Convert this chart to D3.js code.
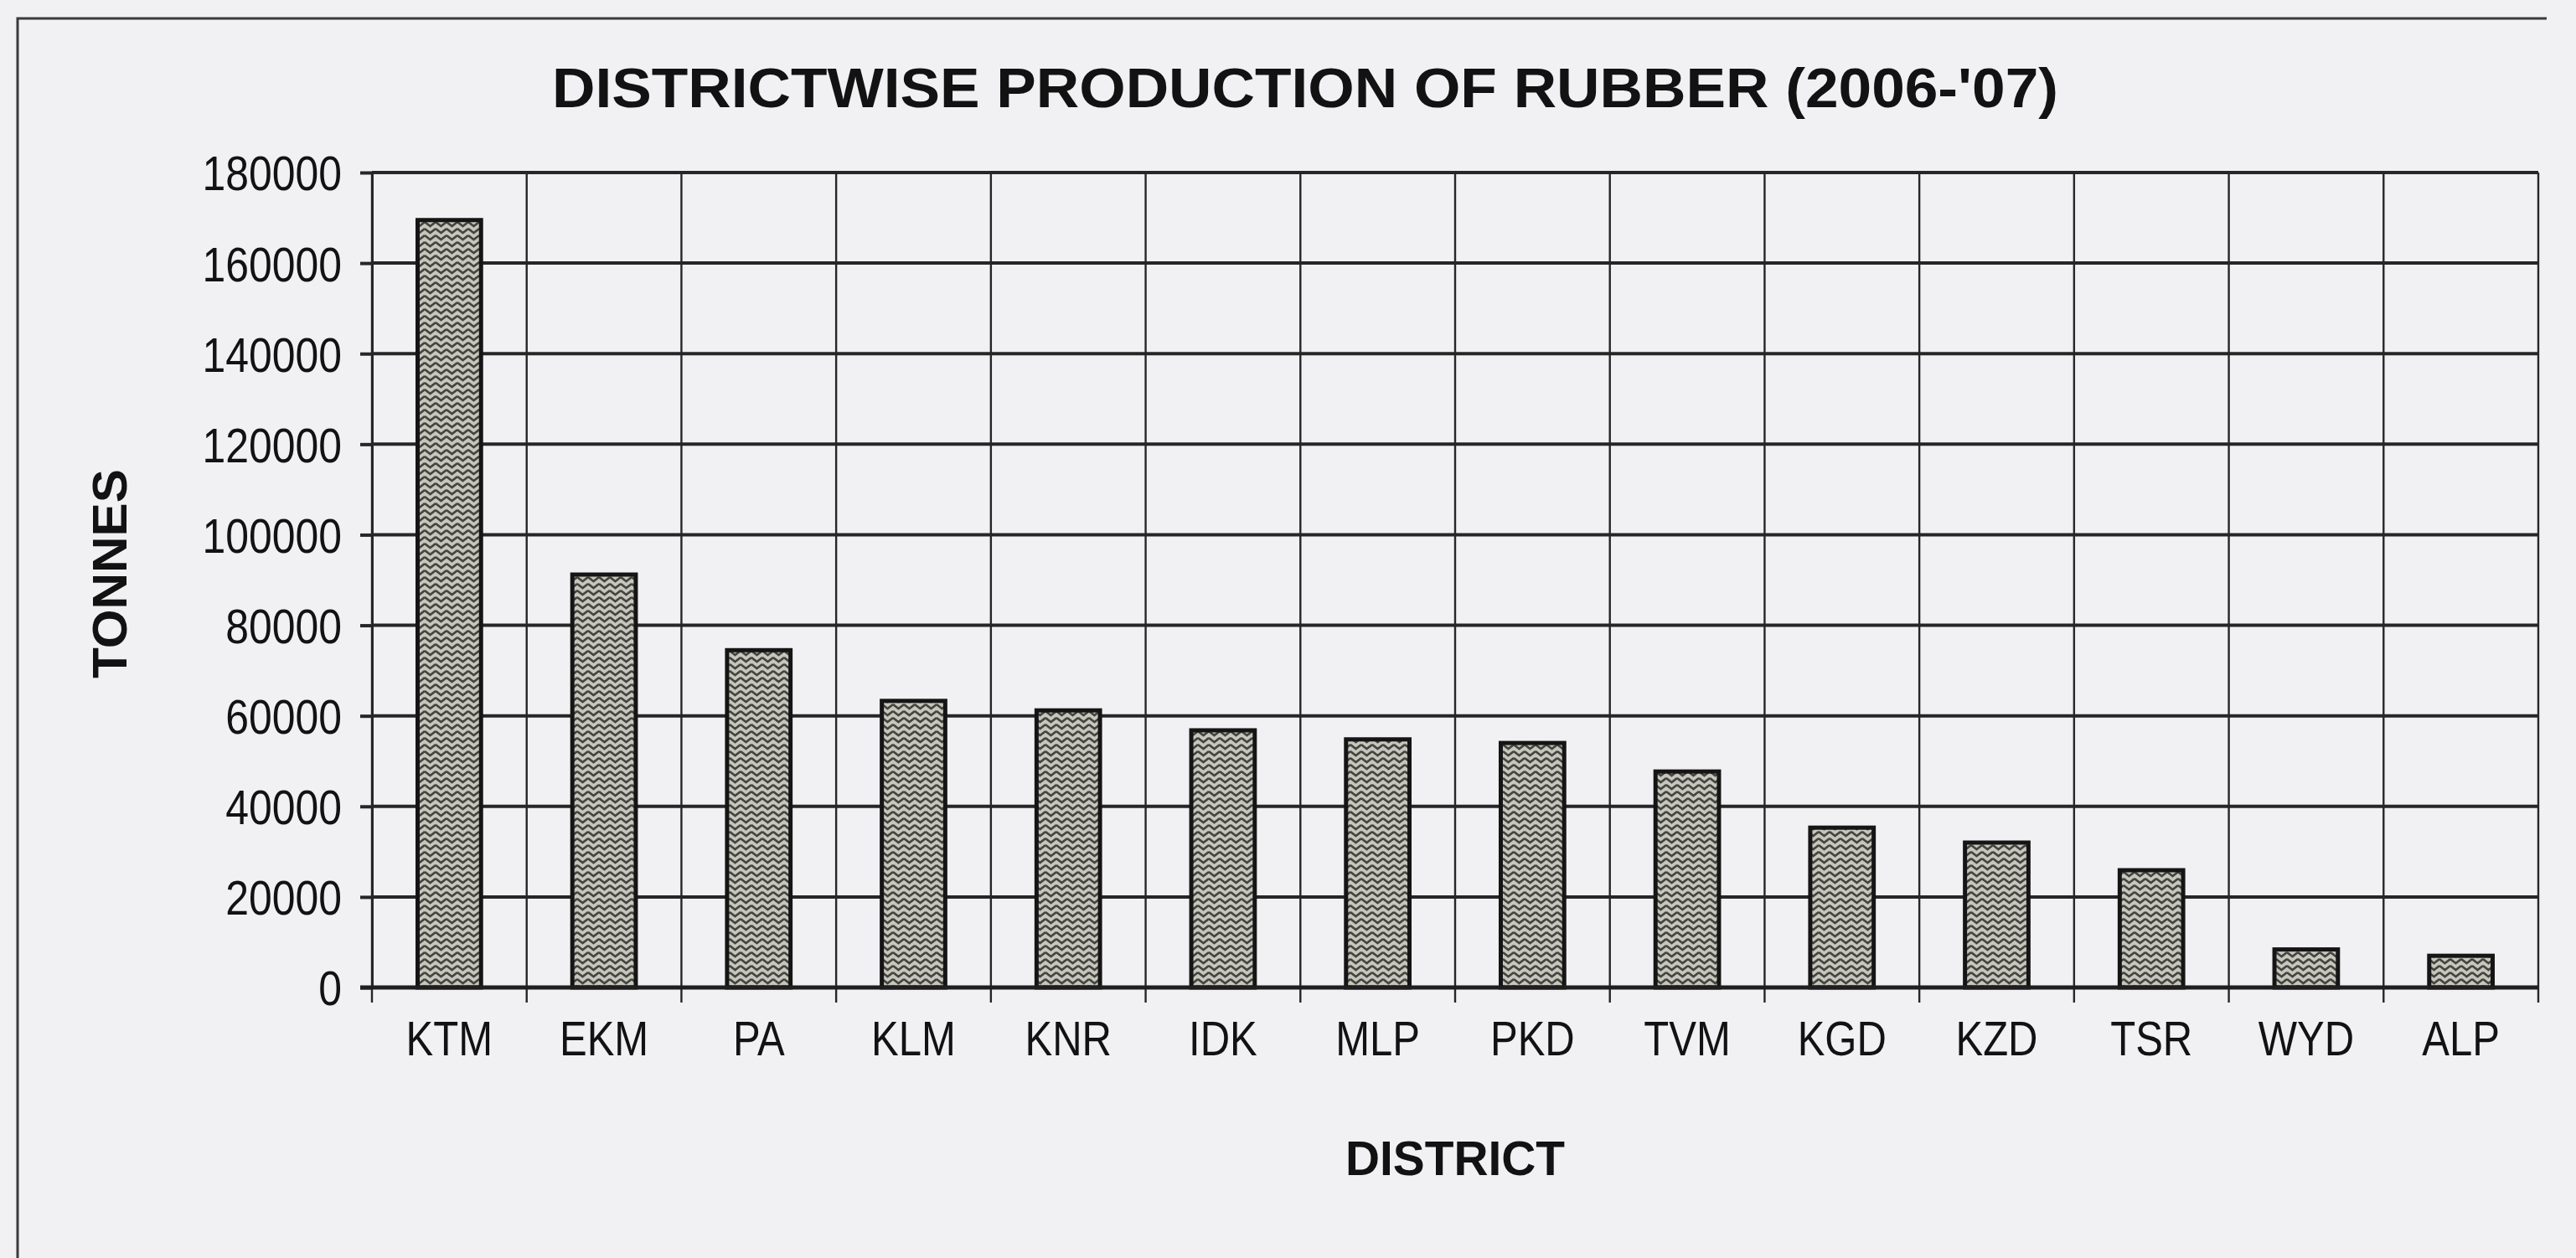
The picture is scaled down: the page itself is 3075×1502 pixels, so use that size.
<!DOCTYPE html>
<html>
<head>
<meta charset="utf-8">
<script src="https://cdn.jsdelivr.net/npm/d3@7"></script>
<style>
  html, body { margin: 0; padding: 0; background: #f1f1f4; }
  svg { display: block; }
  text { font-family: "Liberation Sans", Arial, sans-serif; fill: #121212; }
</style>
</head>
<body>
<svg class="chart"></svg>
<script>
const width = 3075;
const height = 1502;

const districts = ["KTM", "EKM", "PA", "KLM", "KNR", "IDK", "MLP", "PKD", "TVM", "KGD", "KZD", "TSR", "WYD", "ALP"];
const tonnes = [169500, 91200, 74500, 63300, 61200, 56800, 54800, 54000, 47700, 35300, 32000, 25900, 8400, 7000];
const yTicks = [0, 20000, 40000, 60000, 80000, 100000, 120000, 140000, 160000, 180000];

const titleText = "DISTRICTWISE PRODUCTION OF RUBBER (2006-'07)";
const yTitle = "TONNES";
const xTitle = "DISTRICT";

const plot = { left: 444, right: 3030, top: 206, bottom: 1179 };
const lineColor = "#262626";
const narrow = 0.86; // scanned labels look condensed

const svg = d3.select("svg.chart")
  .attr("width", width)
  .attr("height", height);

// wavy grey hatch used by the bars
const defs = svg.append("defs");
const pat = defs.append("pattern")
  .attr("id", "weave")
  .attr("patternUnits", "userSpaceOnUse")
  .attr("width", 13)
  .attr("height", 8);
pat.append("rect")
  .attr("width", 13)
  .attr("height", 8)
  .attr("fill", "#c6c6be");
pat.append("path")
  .attr("d", "M0,1 L6.5,6 L13,1")
  .attr("fill", "none")
  .attr("stroke", "#45453f")
  .attr("stroke-width", 2.6);

// outer frame of the chart
svg.append("path")
  .attr("d", `M21,${height} V22 H3040`)
  .attr("fill", "none")
  .attr("stroke", "#3a3a3a")
  .attr("stroke-width", 3);

const x = d3.scaleBand()
  .domain(districts)
  .range([plot.left, plot.right])
  .paddingInner(0.59)
  .paddingOuter(0.295);

const y = d3.scaleLinear()
  .domain([0, 180000])
  .range([plot.bottom, plot.top]);

const step = x.step();
const edges = districts.map((d) => x(d) - (step - x.bandwidth()) / 2);
edges.push(plot.right);

// horizontal gridlines
svg.append("g")
  .selectAll("line")
  .data(yTicks)
  .join("line")
  .attr("x1", plot.left)
  .attr("x2", plot.right)
  .attr("y1", (d) => y(d))
  .attr("y2", (d) => y(d))
  .attr("stroke", lineColor)
  .attr("stroke-width", 4);

// vertical gridlines at category boundaries, with ticks below the axis
svg.append("g")
  .selectAll("line")
  .data(edges)
  .join("line")
  .attr("x1", (d) => d)
  .attr("x2", (d) => d)
  .attr("y1", plot.top)
  .attr("y2", plot.bottom + 18)
  .attr("stroke", lineColor)
  .attr("stroke-width", 2.4);

// bars
svg.append("g")
  .selectAll("rect")
  .data(districts.map((d, i) => ({ name: d, value: tonnes[i] })))
  .join("rect")
  .attr("x", (d) => x(d.name))
  .attr("y", (d) => y(d.value))
  .attr("width", x.bandwidth())
  .attr("height", (d) => y(0) - y(d.value))
  .attr("fill", "url(#weave)")
  .attr("stroke", "#151515")
  .attr("stroke-width", 5);

function condense(sel) {
  sel.each(function () {
    const w = this.getComputedTextLength();
    d3.select(this)
      .attr("textLength", w * narrow)
      .attr("lengthAdjust", "spacingAndGlyphs");
  });
}

// y axis
const yAxis = svg.append("g")
  .attr("transform", `translate(${plot.left},0)`)
  .call(d3.axisLeft(y).tickValues(yTicks).tickFormat(d3.format("d")).tickSize(14).tickPadding(22));
yAxis.select(".domain").attr("stroke", lineColor).attr("stroke-width", 3);
yAxis.selectAll(".tick line").attr("stroke", lineColor).attr("stroke-width", 4);
yAxis.selectAll(".tick text")
  .style("font-size", "58px")
  .attr("fill", "#121212")
  .attr("dy", "0.36em")
  .call(condense);

// zero line, a bit heavier
svg.append("line")
  .attr("x1", plot.left - 14)
  .attr("x2", plot.right)
  .attr("y1", y(0))
  .attr("y2", y(0))
  .attr("stroke", "#1e1e1e")
  .attr("stroke-width", 5);

// x axis labels
const xAxis = svg.append("g")
  .attr("transform", `translate(0,${plot.bottom})`)
  .call(d3.axisBottom(x).tickSize(0).tickPadding(64));
xAxis.select(".domain").remove();
xAxis.selectAll(".tick text")
  .style("font-size", "57px")
  .attr("fill", "#121212")
  .attr("dy", "0.3em")
  .call(condense);

// titles
svg.append("text")
  .attr("x", 659)
  .attr("y", 128)
  .attr("textLength", 1798)
  .attr("lengthAdjust", "spacingAndGlyphs")
  .style("font-size", "67px")
  .style("font-weight", "bold")
  .text(titleText);

svg.append("text")
  .attr("x", (plot.left + plot.right) / 2)
  .attr("y", 1403)
  .attr("text-anchor", "middle")
  .attr("textLength", 262)
  .attr("lengthAdjust", "spacingAndGlyphs")
  .style("font-size", "57px")
  .style("font-weight", "bold")
  .text(xTitle);

svg.append("text")
  .attr("transform", `translate(151,685) rotate(-90)`)
  .attr("text-anchor", "middle")
  .attr("textLength", 250)
  .attr("lengthAdjust", "spacingAndGlyphs")
  .style("font-size", "58px")
  .style("font-weight", "bold")
  .text(yTitle);
</script>
</body>
</html>
